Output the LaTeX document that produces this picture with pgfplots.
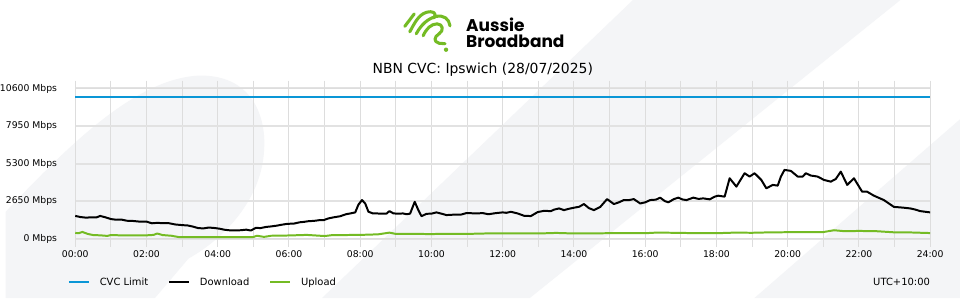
\documentclass[border=0pt]{standalone}
\usepackage{fontspec}
\setmainfont{DejaVu Sans}
\newfontfamily\poppins{Poppins}
\usepackage{pgfplots}
\pgfplotsset{compat=1.18}
\definecolor{cvcblue}{HTML}{0A96D6}
\definecolor{abbgreen}{HTML}{74BB24}
\definecolor{gridgrey}{HTML}{DDDDDD}
\definecolor{bggrey}{HTML}{F4F5F7}

\begin{document}
\begin{tikzpicture}
\begin{scope}[x=0.75pt,y=-0.75pt,shift={(0pt,225pt)}]
\useasboundingbox (0,0) rectangle (960,300);
\fill[white] (0,0) rectangle (960,300);
% background decoration
\fill[bggrey] (0,300) -- (0,213) .. controls (60,150) and (130,78) .. (196,76)
  .. controls (250,76) and (262,120) .. (260,150) .. controls (258,200) and (220,240) .. (184,260) -- (150,300) -- cycle;
\fill[bggrey] (318,300) -- (631,0) -- (900,0) -- (527,300) -- cycle;
\fill[bggrey] (753,300) -- (960,120) -- (960,300) -- cycle;
% logo
\begin{scope}[abbgreen, line width=2.3pt, line cap=round, line join=round]
\draw (401.5,26.5) -- (411,14);
\draw (406.5,32) .. controls (411,24) and (415,15) .. (423,12.5) .. controls (430,10.5) and (434,13) .. (431,18);
\draw (413,34) .. controls (418,25) and (424,19) .. (433,16.5) .. controls (441,15) and (446,19) .. (447,26);
\draw (420,36) .. controls (423,29) and (428,24) .. (434,24) .. controls (440,24) and (441,31) .. (436,34) .. controls (431,37) and (430,42) .. (436,43.5) -- (442,44);
\fill (443,50) circle (2.2);
\end{scope}
\node[anchor=base west, inner sep=0pt] at (463,31.7) {\poppins\bfseries\fontsize{12.8}{13}\selectfont Aussie};
\node[anchor=base west, inner sep=0pt] at (463,47.7) {\poppins\bfseries\fontsize{12.8}{13}\selectfont Broadband};
% title
\node[inner sep=0pt] at (480,70) {\fontsize{10.5}{12}\selectfont NBN CVC: Ipswich (28/07/2025)};
% timezone
\node[anchor=east, inner sep=0pt] at (930,284) {\fontsize{7.5}{9}\selectfont UTC+10:00};
\end{scope}

\begin{axis}[
  at={(52.5pt,45pt)}, anchor=south west,
  width=645pt, height=113.25pt, scale only axis,
  xmin=0, xmax=24, ymin=0, ymax=10600,
  scaled y ticks=false,
  xtick={0,2,4,6,8,10,12,14,16,18,20,22,24},
  xticklabels={00:00,02:00,04:00,06:00,08:00,10:00,12:00,14:00,16:00,18:00,20:00,22:00,24:00},
  minor xtick={1,3,5,7,9,11,13,15,17,19,21,23},
  ytick={0,2650,5300,7950,10600},
  yticklabels={0 Mbps,2650 Mbps,5300 Mbps,7950 Mbps,10600 Mbps},
  xmajorgrids, xminorgrids, ymajorgrids,
  major x grid style={gridgrey, line width=0.75pt},
  minor x grid style={gridgrey, line width=0.75pt},
  major y grid style={gridgrey!85, line width=1.5pt},
  axis line style={gridgrey, line width=0.75pt},
  tick align=outside,
  every tick/.append style={gridgrey, line width=0.75pt},
  ytick style={draw=none},
  major tick length=6pt, minor tick length=6pt,
  /pgf/number format/assume math mode=true,
  tick label style={font=\fontsize{7}{8}\selectfont},
  xticklabel style={inner sep=0pt, yshift=-2.5pt},
  yticklabel style={inner sep=0pt, xshift=-7.5pt},
  legend columns=3,
  legend cell align=left,
  legend style={at={(-0.0085,-0.291)}, anchor=west, draw=none, fill=none,
    font=\fontsize{7.5}{9}\selectfont, inner sep=0pt, outer sep=0pt,
    nodes={inner sep=0pt, outer sep=0pt},
    /tikz/every even column/.append style={column sep=15pt},
    /tikz/every odd column/.append style={column sep=7.5pt}},
  legend image code/.code={\draw[#1, line width=1.5pt] (0pt,0pt) -- (15pt,0pt);},
]
\addplot[cvcblue, line width=1.5pt] coordinates {(0,10000) (24,10000)};
\addlegendentry{CVC Limit}
\addplot[black, line width=1.5pt, line join=round] coordinates {
(0.00,1600) (0.15,1520) (0.30,1480) (0.45,1500) (0.60,1500) (0.70,1600) (0.85,1500)
(1.00,1380) (1.15,1330) (1.30,1340) (1.45,1260) (1.60,1250) (1.80,1200) (2.00,1200)
(2.15,1080) (2.30,1110) (2.45,1090) (2.60,1100) (2.80,1000) (3.00,950) (3.15,930)
(3.30,850) (3.45,740) (3.60,720) (3.75,780) (3.90,750) (4.05,700) (4.20,620)
(4.35,580) (4.50,580) (4.65,590) (4.80,630) (4.93,570) (5.07,760) (5.20,740)
(5.35,820) (5.50,860) (5.65,910) (5.80,980) (5.95,1040) (6.14,1060) (6.30,1150)
(6.42,1180) (6.55,1230) (6.70,1250) (6.85,1300) (6.98,1310) (7.10,1420) (7.25,1500)
(7.44,1580) (7.60,1720) (7.72,1775) (7.86,1850) (7.95,2400) (8.05,2720) (8.14,2480)
(8.23,1900) (8.35,1780) (8.47,1775) (8.60,1760) (8.74,1770) (8.82,1940) (8.93,1780)
(9.05,1760) (9.20,1775) (9.30,1720) (9.40,1760) (9.53,2600) (9.63,2020) (9.72,1580)
(9.86,1750) (10.00,1760) (10.14,1850) (10.28,1760) (10.42,1660) (10.56,1680) (10.70,1700)
(10.84,1700) (10.98,1800) (11.12,1790) (11.26,1775) (11.44,1800) (11.60,1720) (11.81,1800)
(12.00,1850) (12.10,1820) (12.23,1890) (12.42,1775) (12.60,1610) (12.79,1590) (12.98,1870)
(13.16,1960) (13.35,1940) (13.45,2050) (13.58,2130) (13.72,2010) (13.85,2100) (14.00,2180)
(14.15,2250) (14.28,2440) (14.42,2150) (14.56,2010) (14.74,2240) (14.93,2790) (15.12,2440)
(15.26,2560) (15.40,2720) (15.55,2720) (15.68,2790) (15.86,2480) (16.00,2560) (16.14,2720)
(16.30,2750) (16.42,2890) (16.55,2650) (16.65,2560) (16.80,2780) (16.93,2890) (17.05,2760)
(17.16,2720) (17.35,2890) (17.50,2800) (17.63,2840) (17.81,2770) (17.95,2960) (18.05,3030)
(18.23,2960) (18.37,4260) (18.56,3670) (18.79,4615) (18.93,4380) (19.07,4615) (19.26,4140)
(19.40,3550) (19.58,3790) (19.72,3740) (19.81,4380) (19.91,4850) (20.09,4780) (20.28,4380)
(20.42,4380) (20.51,4615) (20.65,4450) (20.84,4380) (21.02,4140) (21.21,4020) (21.35,4210)
(21.49,4730) (21.67,3790) (21.86,4260) (22.09,3310) (22.23,3310) (22.42,3030) (22.70,2720)
(22.98,2240) (23.26,2180) (23.44,2130) (23.58,2050) (23.72,1940) (24.00,1850)
};
\addlegendentry{Download}
\addplot[abbgreen, line width=1.5pt, line join=round] coordinates {
(0.00,400) (0.10,380) (0.20,470) (0.35,330) (0.50,250) (0.70,230) (0.90,190)
(1.00,250) (1.40,220) (2.00,230) (2.20,260) (2.30,360) (2.45,250) (2.70,200)
(2.90,110) (3.50,100) (4.00,100) (4.50,100) (5.00,110) (5.10,200) (5.30,120)
(5.50,200) (6.00,220) (6.50,260) (7.00,180) (7.20,240) (7.50,250) (8.00,260)
(8.50,300) (8.82,420) (9.00,330) (9.50,330) (10.00,320) (10.50,340) (11.00,330)
(11.50,360) (12.00,360) (13.00,360) (13.50,400) (14.00,360) (15.00,380) (16.00,380)
(16.30,420) (16.80,410) (17.50,380) (18.00,380) (18.50,420) (19.00,410) (19.50,440)
(20.00,450) (20.50,460) (21.00,460) (21.30,590) (21.60,520) (22.00,540) (22.50,520)
(23.00,440) (23.50,430) (24.00,390)
};
\addlegendentry{Upload}
\end{axis}
\end{tikzpicture}
\end{document}
